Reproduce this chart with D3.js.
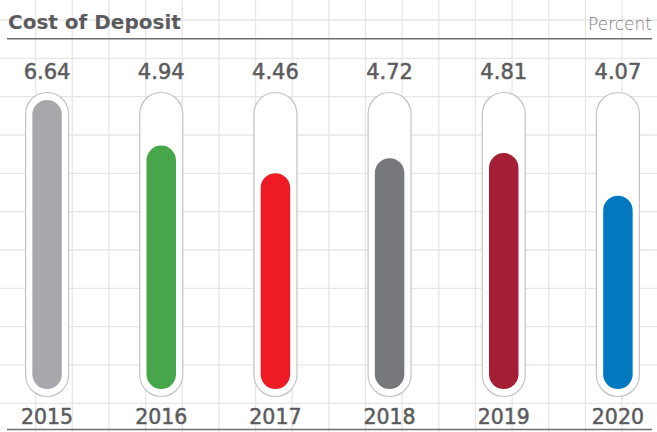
<!DOCTYPE html>
<html lang="en">
<head>
    <meta charset="UTF-8">
    <script src="https://d3js.org/d3.v7.min.js"></script>
    <style>
        body { margin: 0; background: #fff; }
        svg { display: block; }
    </style>
    <title>Cost of Deposit</title>
</head>
<body>
    <script type="text/javascript">
    // data
    const years = ["2015", "2016", "2017", "2018", "2019", "2020"];
    const values = [6.64, 4.94, 4.46, 4.72, 4.81, 4.07];
    const valueLabels = ["6.64", "4.94", "4.46", "4.72", "4.81", "4.07"];
    const colors = ["#a7a8ab", "#47a64a", "#ed1c24", "#77787b", "#a51e36", "#0079c1"];

    const w = 657;
    const h = 432;
    const textColor = "#5b5b5d";

    const svg = d3.select("body")
        .append("svg")
        .attr("width", w)
        .attr("height", h);

    // background grid
    const grid = svg.append("g");
    grid.selectAll("line.v")
        .data(d3.range(1, 18))
        .enter()
        .append("line")
        .attr("x1", function(d) { return -1 + d * 36.65; })
        .attr("x2", function(d) { return -1 + d * 36.65; })
        .attr("y1", 0)
        .attr("y2", h)
        .attr("stroke", "#e6e6e6")
        .attr("stroke-width", 1.3);
    grid.selectAll("line.h")
        .data(d3.range(0, 11))
        .enter()
        .append("line")
        .attr("x1", 0)
        .attr("x2", w)
        .attr("y1", function(d) { return 20 + d * 38.33; })
        .attr("y2", function(d) { return 20 + d * 38.33; })
        .attr("stroke", "#e6e6e6")
        .attr("stroke-width", 1.3);

    // scales
    const x = d3.scaleBand()
        .domain(years)
        .range([-10, 675])
        .paddingInner(0);
    // the tube is full at about 5.73, so 2015 fills it
    const y = d3.scaleLinear()
        .domain([0.72, 5.73])
        .range([389, 100])
        .clamp(true);

    const outerW = 43;
    const innerW = 29.5;
    const cx = function(d) { return x(d) + x.bandwidth() / 2; };

    // outer tubes
    svg.selectAll("rect.tube")
        .data(years)
        .enter()
        .append("rect")
        .attr("class", "tube")
        .attr("x", function(d) { return cx(d) - outerW / 2; })
        .attr("y", 92.5)
        .attr("width", outerW)
        .attr("height", 396.5 - 92.5)
        .attr("rx", outerW / 2)
        .attr("fill", "#fff")
        .attr("stroke", "#c4c4c6")
        .attr("stroke-width", 1.2);

    // filled bars
    svg.selectAll("rect.bar")
        .data(values)
        .enter()
        .append("rect")
        .attr("class", "bar")
        .attr("x", function(d, i) { return cx(years[i]) - innerW / 2; })
        .attr("y", function(d) { return y(d); })
        .attr("width", innerW)
        .attr("height", function(d) { return y(y.domain()[0]) - y(d); })
        .attr("rx", innerW / 2)
        .attr("fill", function(d, i) { return colors[i]; });

    // value labels
    svg.selectAll("text.val")
        .data(valueLabels)
        .enter()
        .append("text")
        .text(function(d) { return d; })
        .attr("x", function(d, i) { return cx(years[i]); })
        .attr("y", 78.5)
        .attr("text-anchor", "middle")
        .attr("font-family", "DejaVu Sans")
        .attr("font-size", "21px")
        .attr("fill", textColor)
        .attr("stroke", textColor)
        .attr("stroke-width", 0.5);

    // year labels
    svg.selectAll("text.year")
        .data(years)
        .enter()
        .append("text")
        .text(function(d) { return d; })
        .attr("x", function(d) { return cx(d); })
        .attr("y", 424)
        .attr("text-anchor", "middle")
        .attr("font-family", "DejaVu Sans")
        .attr("font-size", "20.5px")
        .attr("fill", textColor)
        .attr("stroke", textColor)
        .attr("stroke-width", 0.5);

    // title, unit and rules
    svg.append("text")
        .text("Cost of Deposit")
        .attr("x", 8)
        .attr("y", 28.5)
        .attr("font-family", "DejaVu Sans")
        .attr("font-weight", "bold")
        .attr("font-size", "20px")
        .attr("fill", textColor);

    svg.append("text")
        .text("Percent")
        .attr("x", 652)
        .attr("y", 29.5)
        .attr("text-anchor", "end")
        .attr("font-family", "DejaVu Sans")
        .attr("font-weight", 300)
        .attr("font-size", "17px")
        .attr("fill", "#7a7a7c");

    svg.append("line")
        .attr("x1", 7).attr("x2", 652)
        .attr("y1", 38.7).attr("y2", 38.7)
        .attr("stroke", "#6d6e70")
        .attr("stroke-width", 1.5);

    svg.append("line")
        .attr("x1", 7).attr("x2", 652)
        .attr("y1", 429.5).attr("y2", 429.5)
        .attr("stroke", "#6d6e70")
        .attr("stroke-width", 1.5);
    </script>
</body>
</html>
